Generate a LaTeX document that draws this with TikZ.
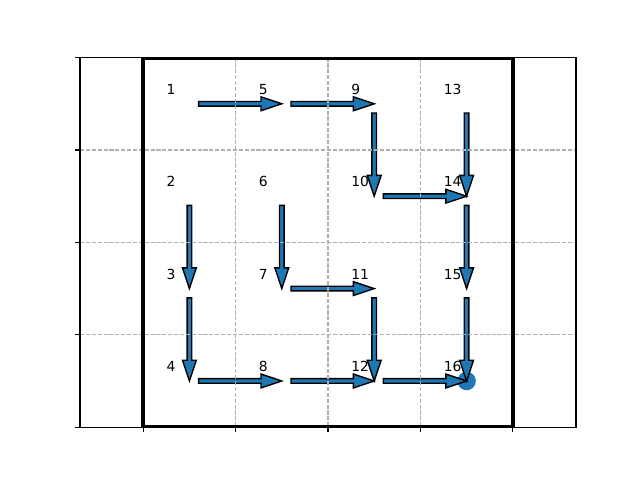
\documentclass[tikz,border=0pt]{standalone}
\usepackage{fontspec}
\setmainfont{DejaVu Sans}
\usetikzlibrary{calc}
\definecolor{cnblue}{RGB}{31,119,180}
\definecolor{gridgray}{RGB}{176,176,176}

\begin{document}
\begin{tikzpicture}[
x=69.3pt, y=-69.3pt,
cellno/.style={anchor=base west, inner sep=0pt, font=\fontsize{10.4}{12}\selectfont},
flow/.style={draw=black, fill=cnblue, line width=1.04pt, line join=miter,
  to path={
    ($(\tikztostart)!0.1!(\tikztotarget)!1.73pt!90:(\tikztotarget)$) --
    ($(\tikztostart)!0.775!(\tikztotarget)!1.73pt!90:(\tikztotarget)$) --
    ($(\tikztostart)!0.775!(\tikztotarget)!5.2pt!90:(\tikztotarget)$) --
    (\tikztotarget) --
    ($(\tikztostart)!0.775!(\tikztotarget)!5.2pt!-90:(\tikztotarget)$) --
    ($(\tikztostart)!0.775!(\tikztotarget)!1.73pt!-90:(\tikztotarget)$) --
    ($(\tikztostart)!0.1!(\tikztotarget)!1.73pt!-90:(\tikztotarget)$) -- cycle}},
gridline/.style={draw=gridgray, line width=0.83pt, dash pattern=on 3.08pt off 1.33pt},
frame/.style={draw=black, line width=3.125pt},
spine/.style={draw=black, line width=0.83pt}
]
\useasboundingbox (-1.5498,-0.6234) rectangle (5.3766,4.5714);

%Cells
\foreach \c in {0,...,3}
  \foreach \r in {0,...,3} {
    \pgfmathtruncatemacro\k{4*\c+\r+1}
    \coordinate (c\k) at (\c+0.5,\r+0.5);
  }

%Goal
\fill[cnblue] (c16) circle (0.1);

%Arrows
\foreach \a/\b in {1/5,5/9,9/10,13/14,10/14,2/3,3/4,4/8,6/7,7/11,8/12,11/12,12/16,14/15,15/16}
  \draw[flow] (c\a) to (c\b);

%Grid
\foreach \i in {1,2,3} {
  \draw[gridline] (-0.684,\i) -- (4.684,\i);
  \draw[gridline] (\i,0) -- (\i,4);
}

%Frame
\begin{scope}
\clip (-0.684,0) rectangle (4.684,4);
\draw[frame] (0,0) rectangle (4,4);
\end{scope}
\draw[spine] (-0.684,0) rectangle (4.684,4);
\foreach \i in {0,...,4} {
  \draw[spine] (-0.684,\i) -- (-0.7367,\i);
  \draw[spine] (\i,4) -- (\i,4.0527);
}

%Labels
\foreach \c in {0,...,3}
  \foreach \r in {0,...,3} {
    \pgfmathtruncatemacro\k{4*\c+\r+1}
    \node[cellno] (n\k) at (\c+0.25,\r+0.4) {\k};
  }

\end{tikzpicture}
\end{document}
